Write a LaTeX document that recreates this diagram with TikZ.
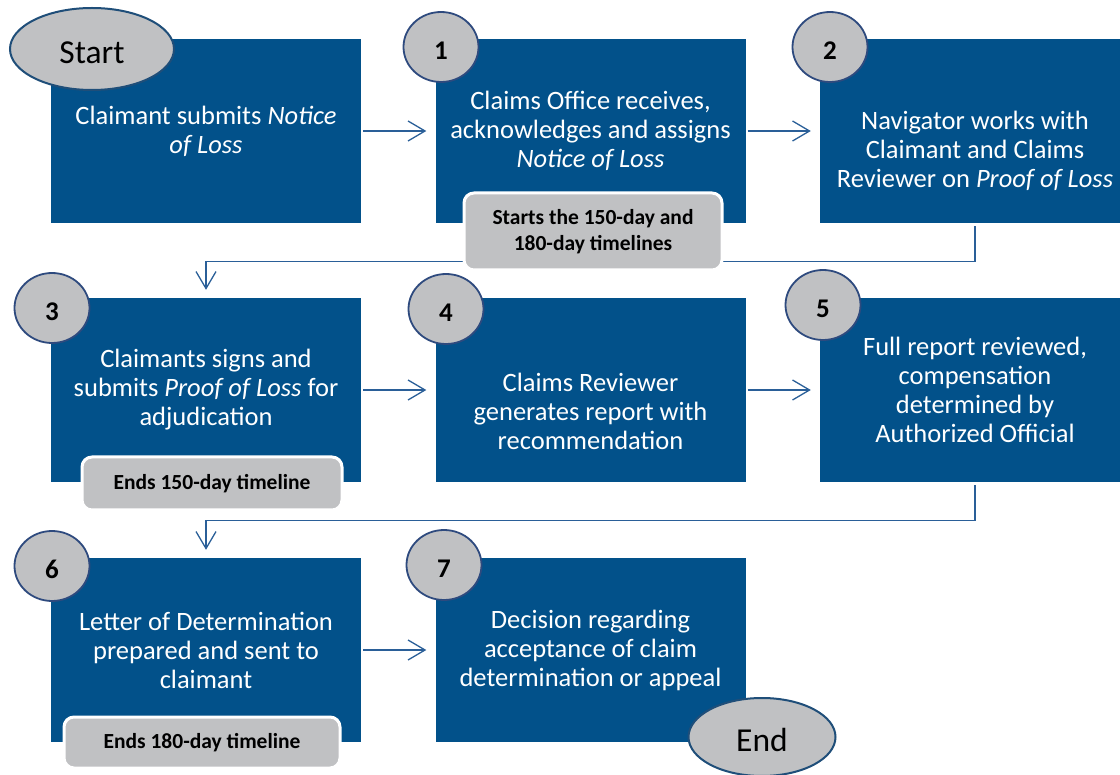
\documentclass[tikz,border=0pt]{standalone}
\usepackage{fontspec}
\setmainfont{Carlito}
\usetikzlibrary{shapes.geometric, arrows.meta, positioning}
\definecolor{stepblue}{HTML}{02518A}
\definecolor{markgray}{HTML}{C0C1C3}
\definecolor{ringblue}{HTML}{2E4A7E}
\definecolor{edgeblue}{HTML}{1F4E79}
\definecolor{arrowblue}{HTML}{2A5F98}

\begin{document}
\begin{tikzpicture}[
  x=1pt, y=1pt,
  box/.style={rectangle, fill=stepblue, minimum width=310pt, minimum height=184pt, inner sep=0pt},
  txt/.style={text=white, align=center, font=\fontsize{26.5}{29}\selectfont},
  num/.style={ellipse, draw=ringblue, line width=1.8pt, fill=markgray, minimum width=75pt, minimum height=70pt, inner sep=0pt, text height=25pt, font=\fontsize{27}{27}\selectfont\bfseries},
  term/.style={ellipse, draw=edgeblue, line width=2pt, fill=markgray, inner sep=0pt, text height=29pt, font=\fontsize{33.5}{33.5}\selectfont},
  note/.style={rectangle, rounded corners=10pt, draw=white, line width=3pt, fill=markgray, align=center, inner sep=0pt, font=\fontsize{21.5}{26}\selectfont\bfseries},
  arr/.style={-{Straight Barb[length=17pt,width=20pt]}, draw=arrowblue, line width=1.3pt}
]
\useasboundingbox (0,0) rectangle (1120,-775);

% process steps
\node[box, txt] (b0) at (206,-131) {Claimant submits \textit{Notice}\\\textit{of Loss}};
\node[box, txt] (b1) at (590.5,-131) {Claims Office receives,\\acknowledges and assigns\\\textit{Notice of Loss}};
\node[box] (b2) at (975,-131) {};
\node[txt] (t2) at ([yshift=-20pt]b2.center) {Navigator works with\\Claimant and Claims\\Reviewer on \textit{Proof of Loss}};
\node[box, txt] (b3) at (206,-390) {Claimants signs and\\submits \textit{Proof of Loss} for\\adjudication};
\node[box] (b4) at (590.5,-390) {};
\node[txt] (t4) at ([yshift=-21pt]b4.center) {Claims Reviewer\\generates report with\\recommendation};
\node[box, txt] (b5) at (975,-390) {Full report reviewed,\\compensation\\determined by\\Authorized Official};
\node[box, txt] (b6) at (206,-650) {Letter of Determination\\prepared and sent to\\claimant};
\node[box, txt] (b7) at (590.5,-650) {Decision regarding\\acceptance of claim\\determination or appeal};

% connectors
\draw[arr, shorten <=2pt, shorten >=9pt] (b0) -- (b1);
\draw[arr, shorten <=2pt, shorten >=9pt] (b1) -- (b2);
\draw[arr, shorten <=3pt, shorten >=8pt] (b2.south) -- ++(0,-38) -| (b3.north);
\draw[arr, shorten <=2pt, shorten >=9pt] (b3) -- (b4);
\draw[arr, shorten <=2pt, shorten >=9pt] (b4) -- (b5);
\draw[arr, shorten <=3pt, shorten >=8pt] (b5.south) -- ++(0,-38) -| (b6.north);
\draw[arr, shorten <=2pt, shorten >=9pt] (b6) -- (b7);

% step numbers
\node[num] (n1) at (441,-47) {1};
\node[num] (n2) at (830,-47) {2};
\node[num] (n3) at (52,-308) {3};
\node[num] (n4) at (446,-309) {4};
\node[num] (n5) at (823,-305) {5};
\node[num] (n6) at (52,-566) {6};
\node[num] (n7) at (444,-565) {7};

% start and end
\node[term, minimum width=164pt, minimum height=82pt] (start) at (92,-49) {Start};
\node[term, minimum width=147pt, minimum height=78pt] (end) at (762,-737) {End};

% timeline notes
\node[note, minimum width=258pt, minimum height=77pt] (clock1) at (593,-231.5) {Starts the 150-day and\\180-day timelines};
\node[note, minimum width=260pt, minimum height=53pt] (clock2) at (212,-483.5) {Ends 150-day timeline};
\node[note, minimum width=276pt, minimum height=51pt] (clock3) at (202,-742.5) {Ends 180-day timeline};
\end{tikzpicture}
\end{document}
